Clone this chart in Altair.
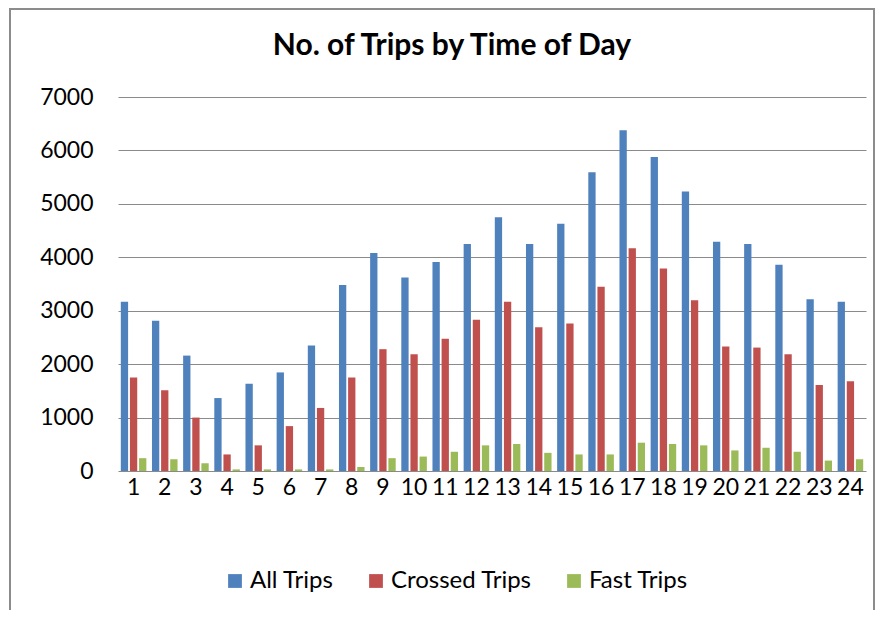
import altair as alt
import pandas as pd

hours = list(range(1, 25))
series_names = ["All Trips", "Crossed Trips", "Fast Trips"]
all_trips = [3170, 2810, 2160, 1365, 1635, 1845, 2350, 3480, 4080, 3620, 3910, 4250,
             4750, 4250, 4630, 5590, 6380, 5875, 5230, 4290, 4250, 3860, 3215, 3170]
crossed_trips = [1750, 1510, 1000, 310, 480, 840, 1180, 1750, 2280, 2185, 2475, 2830,
                 3170, 2690, 2760, 3450, 4170, 3790, 3195, 2330, 2310, 2185, 1610, 1680]
fast_trips = [240, 220, 145, 30, 30, 30, 30, 75, 240, 270, 360, 480,
              505, 340, 310, 310, 530, 505, 480, 385, 435, 360, 195, 220]
colors = ["#4F81BD", "#C0504D", "#9BBB59"]

rows = []
for name, vals in zip(series_names, [all_trips, crossed_trips, fast_trips]):
    for h, v in zip(hours, vals):
        rows.append({"hour": h, "series": name, "trips": v})
df = pd.DataFrame(rows)

FONT = "Lato"

bars = alt.Chart(df).mark_bar().encode(
    x=alt.X("hour:O", sort=hours,
            scale=alt.Scale(paddingInner=0.18, paddingOuter=0.09),
            axis=alt.Axis(title=None, labelAngle=0, labelFontSize=23, labelFont=FONT,
                          labelColor="#000000", labelPadding=5, ticks=False,
                          domain=False, labelOverlap=False, grid=False)),
    xOffset=alt.XOffset("series:N", sort=series_names,
                        scale=alt.Scale(paddingInner=0.2, paddingOuter=0)),
    y=alt.Y("trips:Q", scale=alt.Scale(domain=[0, 7000], nice=False),
            axis=alt.Axis(title=None, values=list(range(0, 7001, 1000)), format="d",
                          labelFontSize=23, labelFont=FONT, labelColor="#000000",
                          labelPadding=25, ticks=False, domain=False,
                          gridColor="#8a8a8a", gridWidth=1.2)),
    color=alt.Color("series:N", sort=series_names,
                    scale=alt.Scale(domain=series_names, range=colors),
                    legend=alt.Legend(title=None, orient="none", direction="horizontal",
                                      legendX=105, legendY=472,
                                      symbolType="square", symbolSize=190,
                                      symbolStrokeWidth=0, labelFontSize=24,
                                      labelFont=FONT, labelColor="#000000",
                                      labelOffset=3, columnPadding=30)),
)

frame = alt.Chart(alt.Data(values=[{"a": 1}])).mark_rect(
    fill="transparent", stroke="#8c8c8c", strokeWidth=2
).encode(
    x=alt.value(-108), x2=alt.value(756), y=alt.value(-88), y2=alt.value(540)
)

chart = alt.layer(bars, frame).properties(
    width=748, height=374,
    autosize=alt.AutoSizeParams(type="none"),
    padding={"left": 110, "top": 89, "right": 9, "bottom": 139},
    title=alt.TitleParams("No. of Trips by Time of Day", fontSize=30, font=FONT,
                          fontWeight="bold", color="#000000", anchor="middle",
                          dx=-40, offset=0, dy=53),
).configure_view(stroke=None)

chart.save("out.html", embed_options={"renderer": "svg", "actions": False})
